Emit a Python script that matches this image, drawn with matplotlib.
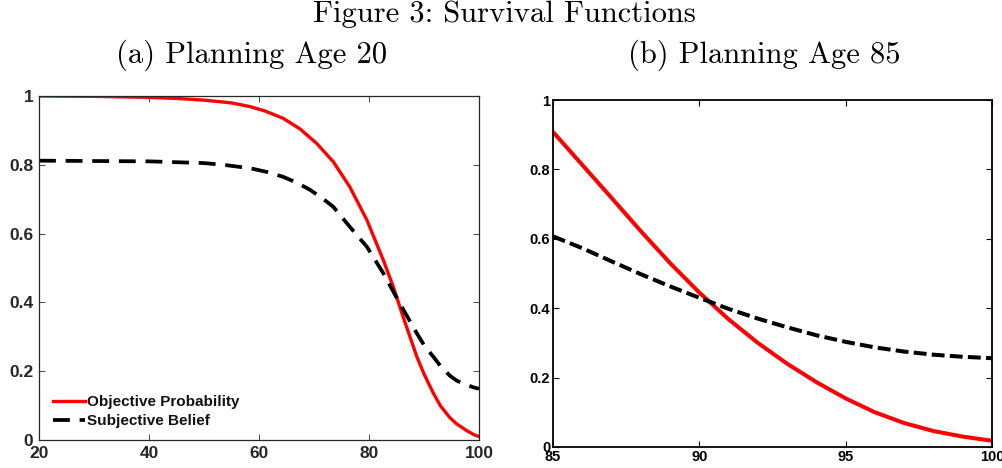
import matplotlib
matplotlib.use('Agg')
import matplotlib.pyplot as plt
import numpy as np

plt.rcParams['font.family'] = 'Liberation Sans'

# panel (a): planning age 20
age_obj_a = [20, 30, 40, 45, 50, 55, 58.4, 61, 64.4, 67.4, 70.5, 73.5, 76.5, 79.6, 82.6, 84.4, 86.2, 88.7, 90, 91.7, 93, 94.7, 96, 97.8, 99, 100]
obj_a = [1.0, 0.999, 0.996, 0.993, 0.988, 0.980, 0.969, 0.957, 0.935, 0.905, 0.862, 0.809, 0.736, 0.64, 0.523, 0.446, 0.358, 0.242, 0.192, 0.136, 0.099, 0.065, 0.046, 0.027, 0.016, 0.01]
age_subj_a = [20, 30, 40, 50, 54, 58.4, 61.5, 64.4, 67, 69.3, 71.5, 73.5, 76.5, 79.6, 82.6, 85.6, 88.7, 90, 91.7, 93, 94.7, 96, 97.8, 99, 100]
subj_a = [0.812, 0.811, 0.81, 0.805, 0.799, 0.79, 0.779, 0.765, 0.747, 0.727, 0.703, 0.678, 0.62, 0.562, 0.485, 0.397, 0.31, 0.276, 0.242, 0.215, 0.187, 0.172, 0.16, 0.153, 0.149]

# panel (b): planning age 85
age_b = [85, 86, 87, 88, 89, 90, 91, 92, 93, 94, 95, 96, 97, 98, 99, 100]
obj_b = [0.908, 0.813, 0.718, 0.622, 0.530, 0.445, 0.368, 0.300, 0.240, 0.187, 0.140, 0.100, 0.069, 0.046, 0.030, 0.018]
subj_b = [0.607, 0.573, 0.535, 0.498, 0.463, 0.430, 0.398, 0.370, 0.345, 0.322, 0.303, 0.287, 0.275, 0.266, 0.260, 0.256]

W, H = 1003., 468.
fig = plt.figure(figsize=(W / 100, H / 100), dpi=100)

fig.text(504 / W, 1 - 22 / H, 'Figure 3: Survival Functions', ha='center', va='baseline', fontsize=22, family='cmr10')
fig.text(116 / W, 1 - 63 / H, '(a) Planning Age 20', ha='left', va='baseline', fontsize=22, family='cmr10')
fig.text(628 / W, 1 - 63 / H, '(b) Planning Age 85', ha='left', va='baseline', fontsize=22, family='cmr10')

##Left panel
ax1 = fig.add_axes([39 / W, 1 - 440 / H, 440 / W, 344 / H])
ax1.plot(age_obj_a, obj_a, color='#ff0000', lw=2.4, label='Objective Probability')
ax1.plot(age_subj_a, subj_a, color='black', lw=2.7, dashes=(4.5, 2.6), label='Subjective Belief')
ax1.set_xlim(20, 100)
ax1.set_ylim(0, 1)
ax1.set_xticks([20, 40, 60, 80, 100])
ax1.set_yticks([0, 0.2, 0.4, 0.6, 0.8, 1])
ax1.set_yticklabels(['0', '0.2', '0.4', '0.6', '0.8', '1'])
gray = '#262626'
for s in ax1.spines.values():
    s.set_color(gray)
    s.set_linewidth(0.9)
ax1.tick_params(direction='in', top=True, right=True, length=4, width=0.6, colors=gray, labelsize=12.5, pad=4)
for lb in ax1.get_xticklabels() + ax1.get_yticklabels():
    lb.set_fontweight('bold')
leg = ax1.legend(loc='lower left', frameon=False, prop={'weight': 'bold', 'size': 11},
                 handlelength=2.1, handletextpad=0.15, borderaxespad=0, borderpad=0,
                 labelspacing=0.3, bbox_to_anchor=(14 / 440, 12 / 344))
for t in leg.get_texts():
    t.set_color('#111111')

##Right panel
ax2 = fig.add_axes([553 / W, 1 - 447 / H, 439 / W, 347 / H])
ax2.plot(age_b, obj_b, color='#ff0000', lw=2.9)
ax2.plot(age_b, subj_b, color='black', lw=2.9, dashes=(3.2, 1.3))
ax2.set_xlim(85, 100)
ax2.set_ylim(0, 1)
ax2.set_xticks([85, 90, 95, 100])
ax2.set_yticks([0, 0.2, 0.4, 0.6, 0.8, 1])
ax2.set_yticklabels(['0', '0.2', '0.4', '0.6', '0.8', '1'])
for s in ax2.spines.values():
    s.set_color('black')
    s.set_linewidth(1.3)
ax2.tick_params(direction='in', top=True, right=True, length=4, width=0.8, colors='black', labelsize=10.5, pad=2)
for lb in ax2.get_xticklabels() + ax2.get_yticklabels():
    lb.set_fontweight('bold')

fig.savefig('out.png', dpi=100)
